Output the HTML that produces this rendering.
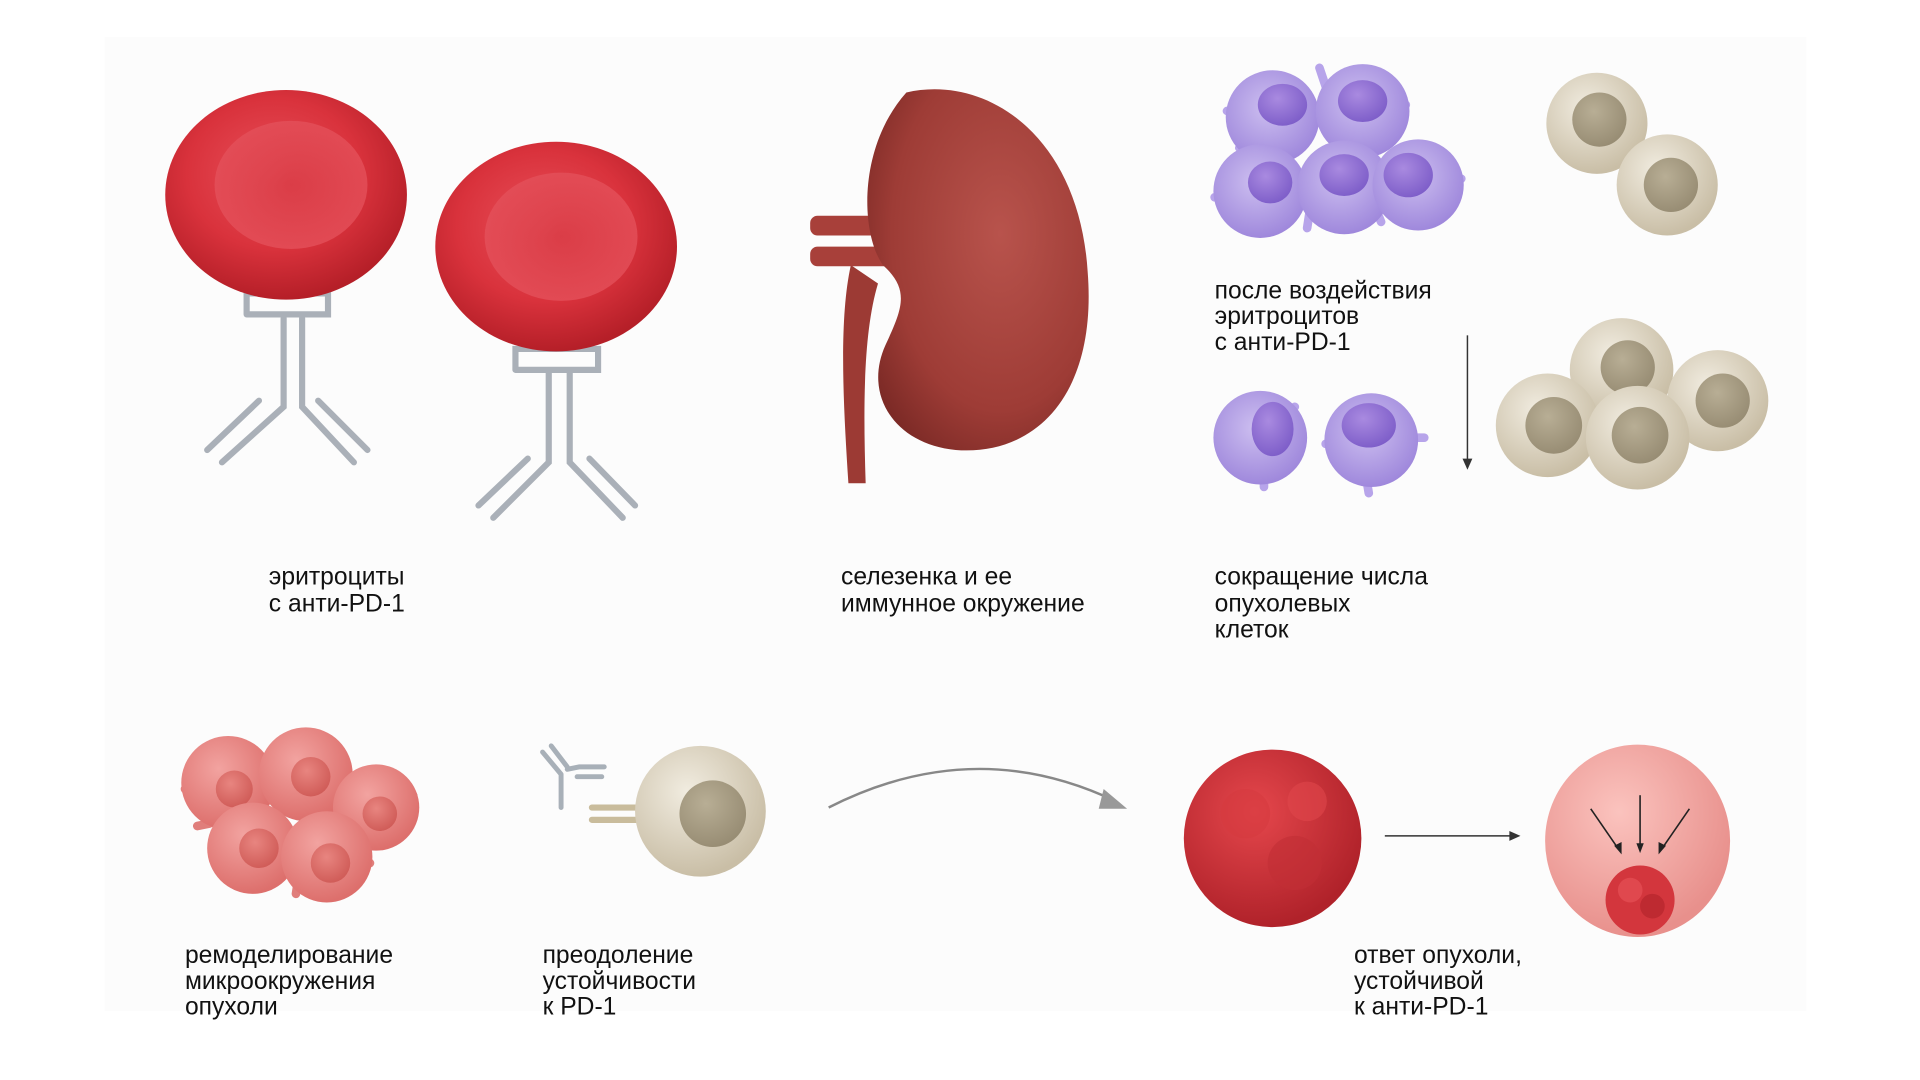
<!DOCTYPE html>
<html><head><meta charset="utf-8"><style>
html,body{margin:0;padding:0;background:#fff;width:1920px;height:1080px;overflow:hidden}
svg{display:block}
text{font-family:"Liberation Sans",sans-serif;font-size:20px;fill:#111}
</style></head><body>
<svg width="1920" height="1080" viewBox="0 0 1557 876" preserveAspectRatio="none">
<defs>
<radialGradient id="rbc" cx="45%" cy="40%" r="60%"><stop offset="0" stop-color="#e8505a"/><stop offset="0.6" stop-color="#d9323c"/><stop offset="1" stop-color="#b51f28"/></radialGradient>
<radialGradient id="rbcIn" cx="50%" cy="50%" r="50%"><stop offset="0" stop-color="#d83a44"/><stop offset="1" stop-color="#e4505a"/></radialGradient>
<radialGradient id="kid" cx="60%" cy="40%" r="70%"><stop offset="0" stop-color="#b8534c"/><stop offset="0.7" stop-color="#9e3c36"/><stop offset="1" stop-color="#7c2a26"/></radialGradient>
<radialGradient id="pur" cx="45%" cy="40%" r="60%"><stop offset="0" stop-color="#cdbff0"/><stop offset="1" stop-color="#9f88dc"/></radialGradient>
<radialGradient id="purN" cx="40%" cy="35%" r="70%"><stop offset="0" stop-color="#a98ae0"/><stop offset="1" stop-color="#7c5cc8"/></radialGradient>
<radialGradient id="bei" cx="40%" cy="35%" r="65%"><stop offset="0" stop-color="#f1ece0"/><stop offset="1" stop-color="#c9bea6"/></radialGradient>
<radialGradient id="beiN" cx="40%" cy="35%" r="70%"><stop offset="0" stop-color="#b8ae95"/><stop offset="1" stop-color="#968b72"/></radialGradient>
<radialGradient id="pk" cx="40%" cy="35%" r="65%"><stop offset="0" stop-color="#f2a3a0"/><stop offset="1" stop-color="#dd6f6c"/></radialGradient>
<radialGradient id="pkN" cx="40%" cy="35%" r="70%"><stop offset="0" stop-color="#e88580"/><stop offset="1" stop-color="#cf5a56"/></radialGradient>
<radialGradient id="tum" cx="40%" cy="35%" r="65%"><stop offset="0" stop-color="#e5474c"/><stop offset="1" stop-color="#b0222a"/></radialGradient>
<radialGradient id="tum2" cx="40%" cy="35%" r="65%"><stop offset="0" stop-color="#fbc3be"/><stop offset="1" stop-color="#e8908c"/></radialGradient>
</defs>
<rect x="85" y="30" width="1380" height="790" fill="#fcfcfc"/>

<g fill="none" stroke="#aab0b8" stroke-width="5" stroke-linecap="round">
<path d="M200 255 V238 H266 V255 H200"/>
<path d="M230 258 V330 L180 375 M245 258 V330 L287 375"/>
<path d="M168 365 L210 325 M298 365 L258 325"/>
<path d="M418 300 V283 H485 V300 H418"/>
<path d="M445 302 V375 L400 420 M462 302 V375 L505 420"/>
<path d="M388 410 L428 372 M515 410 L478 372"/>
</g>
<ellipse cx="232" cy="158" rx="98" ry="85" fill="url(#rbc)"/>
<ellipse cx="236" cy="150" rx="62" ry="52" fill="url(#rbcIn)" opacity="0.8"/>
<ellipse cx="451" cy="200" rx="98" ry="85" fill="url(#rbc)"/>
<ellipse cx="455" cy="192" rx="62" ry="52" fill="url(#rbcIn)" opacity="0.8"/>

<path d="M690 215 C680 260 684 330 688 392 L702 392 C700 330 700 270 712 230 Z" fill="#9c3a34"/>
<rect x="657" y="175" width="70" height="16" rx="6" fill="#a8403a"/>
<rect x="657" y="200" width="68" height="16" rx="6" fill="#a8403a"/>
<path d="M735 75 C800 60 875 110 882 220 C890 320 840 370 775 365 C725 360 700 320 718 280 C732 250 738 235 716 215 C698 190 695 120 735 75 Z" fill="url(#kid)"/>

<g stroke="#b7a4ea" stroke-width="7" stroke-linecap="round">
<path d="M995 90 L1010 95 M1070 55 L1075 70 M1140 85 L1125 90 M985 160 L1000 158 M1185 145 L1170 148 M1120 180 L1115 168 M1010 185 L1015 175 M1060 185 L1062 172 M1005 120 L1015 125"/>
<path d="M990 350 L1005 352 M1050 330 L1040 335 M1155 355 L1140 355 M1110 400 L1108 388 M1025 395 L1025 385 M1075 360 L1085 360"/>
</g>
<g>
<circle cx="1032" cy="95" r="38" fill="url(#pur)"/><ellipse cx="1040" cy="85" rx="20" ry="17" fill="url(#purN)"/>
<circle cx="1105" cy="90" r="38" fill="url(#pur)"/><ellipse cx="1105" cy="82" rx="20" ry="17" fill="url(#purN)"/>
<circle cx="1022" cy="155" r="38" fill="url(#pur)"/><ellipse cx="1030" cy="148" rx="18" ry="17" fill="url(#purN)"/>
<circle cx="1090" cy="152" r="38" fill="url(#pur)"/><ellipse cx="1090" cy="142" rx="20" ry="17" fill="url(#purN)"/>
<circle cx="1150" cy="150" r="37" fill="url(#pur)"/><ellipse cx="1142" cy="142" rx="20" ry="18" fill="url(#purN)"/>
<circle cx="1022" cy="355" r="38" fill="url(#pur)"/><ellipse cx="1032" cy="348" rx="17" ry="22" fill="url(#purN)"/>
<circle cx="1112" cy="357" r="38" fill="url(#pur)"/><ellipse cx="1110" cy="345" rx="22" ry="18" fill="url(#purN)"/>
</g>
<line x1="1190" y1="272" x2="1190" y2="375" stroke="#333" stroke-width="1.2"/>
<path d="M1186 372 L1190 381 L1194 372 Z" fill="#333"/>

<circle cx="1295" cy="100" r="41" fill="url(#bei)"/><circle cx="1297" cy="97" r="22" fill="url(#beiN)"/>
<circle cx="1352" cy="150" r="41" fill="url(#bei)"/><circle cx="1355" cy="150" r="22" fill="url(#beiN)"/>
<circle cx="1315" cy="300" r="42" fill="url(#bei)"/><circle cx="1320" cy="298" r="22" fill="url(#beiN)"/>
<circle cx="1255" cy="345" r="42" fill="url(#bei)"/><circle cx="1260" cy="345" r="23" fill="url(#beiN)"/>
<circle cx="1393" cy="325" r="41" fill="url(#bei)"/><circle cx="1397" cy="325" r="22" fill="url(#beiN)"/>
<circle cx="1328" cy="355" r="42" fill="url(#bei)"/><circle cx="1330" cy="353" r="23" fill="url(#beiN)"/>

<text x="218" y="474">эритроциты</text><text x="218" y="496">с анти-PD-1</text>
<text x="682" y="474">селезенка и ее</text><text x="682" y="496">иммунное окружение</text>
<text x="985" y="242">после воздействия</text><text x="985" y="263">эритроцитов</text><text x="985" y="284">с анти-PD-1</text>
<text x="985" y="474">сокращение числа</text><text x="985" y="496">опухолевых</text><text x="985" y="517">клеток</text>

<g stroke="#e07e7b" stroke-width="7" stroke-linecap="round">
<path d="M150 640 L162 640 M245 595 L245 605 M335 645 L322 648 M240 725 L242 712 M160 670 L170 668 M300 700 L290 695 M200 720 L205 708"/>
</g>
<circle cx="185" cy="635" r="38" fill="url(#pk)"/><circle cx="190" cy="640" r="15" fill="url(#pkN)"/>
<circle cx="248" cy="628" r="38" fill="url(#pk)"/><circle cx="252" cy="630" r="16" fill="url(#pkN)"/>
<circle cx="305" cy="655" r="35" fill="url(#pk)"/><circle cx="308" cy="660" r="14" fill="url(#pkN)"/>
<circle cx="205" cy="688" r="37" fill="url(#pk)"/><circle cx="210" cy="688" r="16" fill="url(#pkN)"/>
<circle cx="265" cy="695" r="37" fill="url(#pk)"/><circle cx="268" cy="700" r="16" fill="url(#pkN)"/>

<g fill="none" stroke="#a8b0b8" stroke-width="4" stroke-linecap="round">
<path d="M440 610 L455 628 M447 605 L460 622 M455 628 V655 M470 622 H490 M468 630 H488 M460 624 L470 622"/>
</g>
<g fill="none" stroke="#c9bc9c" stroke-width="5" stroke-linecap="round"><path d="M480 655 H520 M480 665 H520"/></g>
<circle cx="568" cy="658" r="53" fill="url(#bei)"/><circle cx="578" cy="660" r="27" fill="url(#beiN)"/>

<path d="M672 655 Q790 595 905 650" fill="none" stroke="#888" stroke-width="2"/>
<path d="M895 640 L914 656 L891 656 Z" fill="#999"/>

<circle cx="1032" cy="680" r="72" fill="url(#tum)"/>
<circle cx="1010" cy="660" r="20" fill="#d63a40" opacity="0.6"/><circle cx="1050" cy="700" r="22" fill="#c22e35" opacity="0.6"/><circle cx="1060" cy="650" r="16" fill="#e0464b" opacity="0.6"/>
<line x1="1123" y1="678" x2="1226" y2="678" stroke="#333" stroke-width="1.2"/>
<path d="M1224 674 L1233 678 L1224 682 Z" fill="#333"/>
<ellipse cx="1328" cy="682" rx="75" ry="78" fill="url(#tum2)"/>
<circle cx="1330" cy="730" r="28" fill="#d3363d"/><circle cx="1322" cy="722" r="10" fill="#e0484e"/><circle cx="1340" cy="735" r="10" fill="#be2a31"/>
<g stroke="#222" stroke-width="1.3"><line x1="1290" y1="656" x2="1312" y2="688"/><line x1="1330" y1="645" x2="1330" y2="686"/><line x1="1370" y1="656" x2="1348" y2="688"/></g>
<g fill="#222"><path d="M1309 686 L1315 693 L1315 683 Z"/><path d="M1327 684 L1330 692 L1333 684 Z"/><path d="M1345 683 L1345 693 L1351 686 Z"/></g>

<text x="150" y="781">ремоделирование</text><text x="150" y="802">микроокружения</text><text x="150" y="823">опухоли</text>
<text x="440" y="781">преодоление</text><text x="440" y="802">устойчивости</text><text x="440" y="823">к PD-1</text>
<text x="1098" y="781">ответ опухоли,</text><text x="1098" y="802">устойчивой</text><text x="1098" y="823">к анти-PD-1</text>
</svg>
</body></html>
